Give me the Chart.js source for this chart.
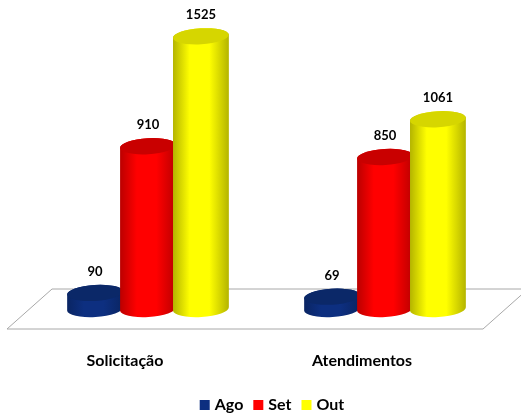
<!DOCTYPE html>
<html>
<head>
<meta charset="utf-8">
<script src="https://cdn.jsdelivr.net/npm/chart.js@4"></script>
<style>
    html, body { margin: 0; padding: 0; background: #fff; }
    #wrap { width: 521px; height: 414px; }
</style>
</head>
<body>
<div id="wrap"><canvas id="grafico"></canvas></div>
<script>
let categorias = ["Solicitação", "Atendimentos"];
let nomesSeries = ["Ago", "Set", "Out"];
let valoresAgo = [90, 69];
let valoresSet = [910, 850];
let valoresOut = [1525, 1061];

// cores: frente, borda do cilindro, tampa
let coresFrente = ["#0d2f80", "#ff0000", "#ffff00"];
let coresBorda = ["#0a2563", "#bb0000", "#b4b400"];
let coresTampa = ["#0b2868", "#c90000", "#d6d600"];

// Chao em perspectiva atras das barras
function desenhaChao(chart) {
    let ctx = chart.ctx;
    let area = chart.chartArea;
    let base = chart.scales.y.getPixelForValue(0);
    ctx.save();
    ctx.strokeStyle = "#a8a8a8";
    ctx.lineWidth = 1;
    ctx.beginPath();
    ctx.moveTo(area.right + 24.5, base - 20);
    ctx.lineTo(area.left + 22.5, base - 20);
    ctx.lineTo(area.left - 22.5, base + 20);
    ctx.lineTo(area.right - 20.5, base + 20);
    ctx.lineTo(area.right + 24.5, base - 20);
    ctx.stroke();
    ctx.restore();
}

// Cada barra vira um cilindro, usando as posicoes calculadas pelo Chart.js
function desenhaCilindro(ctx, barra, indice) {
    let rx = barra.width / 2 + 1.5;
    let ry = 8;
    let giro = -0.06;
    let grad = ctx.createLinearGradient(barra.x - rx, 0, barra.x + rx, 0);
    grad.addColorStop(0, coresBorda[indice]);
    grad.addColorStop(0.3, coresFrente[indice]);
    grad.addColorStop(0.65, coresFrente[indice]);
    grad.addColorStop(1, coresBorda[indice]);

    ctx.beginPath();
    ctx.ellipse(barra.x, barra.base, rx, ry, giro, 0, Math.PI);
    ctx.ellipse(barra.x, barra.y, rx, ry, giro, Math.PI, Math.PI * 2);
    ctx.closePath();
    ctx.fillStyle = grad;
    ctx.fill();

    ctx.beginPath();
    ctx.ellipse(barra.x, barra.y, rx, ry, giro, 0, Math.PI * 2);
    ctx.fillStyle = coresTampa[indice];
    ctx.fill();
}

let pluginCilindros = {
    id: "cilindros",
    afterLayout(chart) {
        // legenda mais abaixo e a direita, como no original
        chart.legend.left += 7;
        chart.legend.right += 7;
        chart.legend.top += 9;
        chart.legend.bottom += 9;
    },
    beforeDatasetsDraw(chart) {
        let ctx = chart.ctx;
        desenhaChao(chart);
        chart.data.datasets.forEach((ds, i) => {
            chart.getDatasetMeta(i).data.forEach(barra => desenhaCilindro(ctx, barra, i));
        });
        ctx.save();
        ctx.fillStyle = "#000";
        ctx.font = "bold 13px Lato";
        ctx.textAlign = "center";
        ctx.textBaseline = "middle";
        chart.data.datasets.forEach((ds, i) => {
            chart.getDatasetMeta(i).data.forEach((barra, j) => {
                ctx.fillText(ds.data[j], barra.x, barra.y - 21);
            });
        });
        ctx.restore();
        return false; // nao desenha as barras retas
    }
};

let series = [valoresAgo, valoresSet, valoresOut];

new Chart(document.getElementById("grafico"), {
    type: "bar",
    data: {
        labels: categorias,
        datasets: series.map((valores, i) => ({
            label: nomesSeries[i],
            data: valores,
            backgroundColor: coresFrente[i],
            borderWidth: 0
        }))
    },
    plugins: [pluginCilindros],
    options: {
        responsive: true,
        maintainAspectRatio: false,
        animation: false,
        datasets: { bar: { categoryPercentage: 0.67, barPercentage: 1 } },
        layout: { padding: { left: 29.5, right: 17.5, top: 5, bottom: 0 } },
        scales: {
            x: {
                grid: { display: false },
                border: { display: false },
                afterFit(scale) { scale.height = 66; },
                ticks: { color: "#000", padding: 34, labelOffset: -23, font: { family: "Lato", size: 16, weight: "bold" } }
            },
            y: { display: false, min: 0, max: 1700 }
        },
        plugins: {
            tooltip: { enabled: false },
            legend: {
                position: "bottom",
                labels: {
                    color: "#000",
                    usePointStyle: true,
                    pointStyle: "rect",
                    boxWidth: 4,
                    boxHeight: 10,
                    padding: 13,
                    font: { family: "Lato", size: 16, weight: "bold" }
                }
            }
        }
    }
});
</script>
</body>
</html>
